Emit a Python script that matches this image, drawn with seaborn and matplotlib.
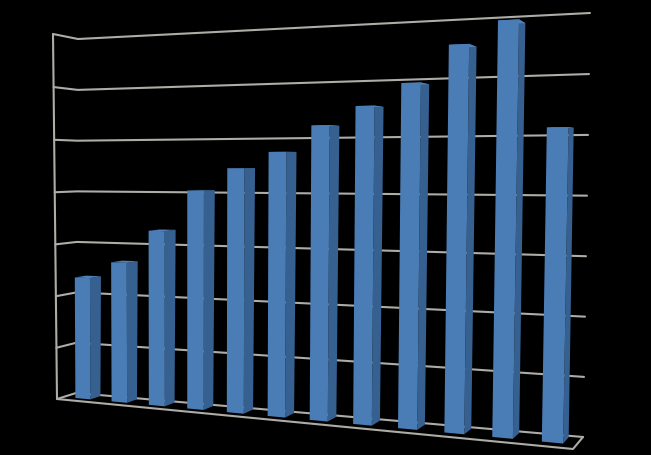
import numpy as np
import matplotlib
matplotlib.use('Agg')
import matplotlib.pyplot as plt
import seaborn as sns
from matplotlib.patches import Polygon
from matplotlib.transforms import Affine2D, Transform

# Chart values
periods = list(range(1, 13))
values = [2.35, 2.67, 3.29, 4.05, 4.46, 4.75, 5.21, 5.53, 5.9, 6.51, 6.87, 5.12]
grid_levels = [0, 1, 2, 3, 4, 5, 6, 7]

FRONT_COLOR = '#4a7db6'
SIDE_COLOR = '#36608f'
TOP_COLOR = '#5080b8'
GRID_COLOR = '#aeaca7'

X_LEFT, X_RIGHT = -0.54, 11.47
BAR_Z_FRONT, BAR_Z_BACK = 0.35, 0.88


def homography(src, dst):
    # plain 4 point solve
    rows = []
    rhs = []
    for (x, y), (u, v) in zip(src, dst):
        rows.append([x, y, 1, 0, 0, 0, -u * x, -u * y])
        rows.append([0, 0, 0, x, y, 1, -v * x, -v * y])
        rhs += [u, v]
    return np.append(np.linalg.solve(np.array(rows), np.array(rhs)), 1).reshape(3, 3)


corners = [(X_LEFT, 0), (X_RIGHT, 0), (X_RIGHT, 7), (X_LEFT, 7)]
H_front = homography(corners, [(57, 399), (573, 449), (581, 5), (53, 34)])
H_back = homography(corners, [(76, 393), (583, 437), (590, 13), (78, 39)])


def apply_h(H, xy):
    xy = np.atleast_2d(xy)
    p = np.c_[xy, np.ones(len(xy))] @ H.T
    return p[:, :2] / p[:, 2:]


def project(x, y, z):
    # z = 0 is the front of the floor, z = 1 the back wall
    xy = [(x, y)]
    return ((1 - z) * apply_h(H_front, xy) + z * apply_h(H_back, xy))[0]


class PlaneTransform(Transform):
    input_dims = 2
    output_dims = 2

    def __init__(self, z):
        super().__init__()
        self.z = z

    def transform_non_affine(self, values):
        return (1 - self.z) * apply_h(H_front, values) + self.z * apply_h(H_back, values)


sns.set_style('white')
fig = plt.figure(figsize=(6.51, 4.55), dpi=100, facecolor='black')
ax = fig.add_axes([0, 0, 1, 1])

sns.barplot(x=periods, y=values, color=FRONT_COLOR, width=0.42, saturation=1, ax=ax)

# image pixels (y down) to display
to_pixels = Affine2D().scale(1, -1).translate(0, 455)

# walls and floor
for level in grid_levels:
    pts = np.array([project(X_LEFT, level, 0), project(X_LEFT, level, 1), project(X_RIGHT, level, 1)])
    ax.plot(pts[:, 0], pts[:, 1], color=GRID_COLOR, lw=1.5, zorder=0.5, transform=to_pixels, clip_on=False)
pts = np.array([project(X_LEFT, 7, 0), project(X_LEFT, 0, 0), project(X_RIGHT, 0, 0), project(X_RIGHT, 0, 1)])
ax.plot(pts[:, 0], pts[:, 1], color=GRID_COLOR, lw=1.5, zorder=0.5, transform=to_pixels, clip_on=False)

# turn the flat seaborn bars into boxes
for bar in ax.patches[:len(values)]:
    x0 = bar.get_x()
    x1 = x0 + bar.get_width()
    h = bar.get_height()
    bar.set_transform(PlaneTransform(BAR_Z_FRONT) + to_pixels)
    bar.set_linewidth(0)
    bar.set_zorder(3)
    bar.set_clip_on(False)
    side = [project(x1, 0, BAR_Z_FRONT), project(x1, 0, BAR_Z_BACK),
            project(x1, h, BAR_Z_BACK), project(x1, h, BAR_Z_FRONT)]
    top = [project(x0, h, BAR_Z_FRONT), project(x1, h, BAR_Z_FRONT),
           project(x1, h, BAR_Z_BACK), project(x0, h, BAR_Z_BACK)]
    ax.add_patch(Polygon(side, closed=True, fc=SIDE_COLOR, ec='none', zorder=2, transform=to_pixels, clip_on=False))
    ax.add_patch(Polygon(top, closed=True, fc=TOP_COLOR, ec='none', zorder=2, transform=to_pixels, clip_on=False))

ax.axis('off')
fig.savefig('out.png', dpi=100, facecolor='black')
